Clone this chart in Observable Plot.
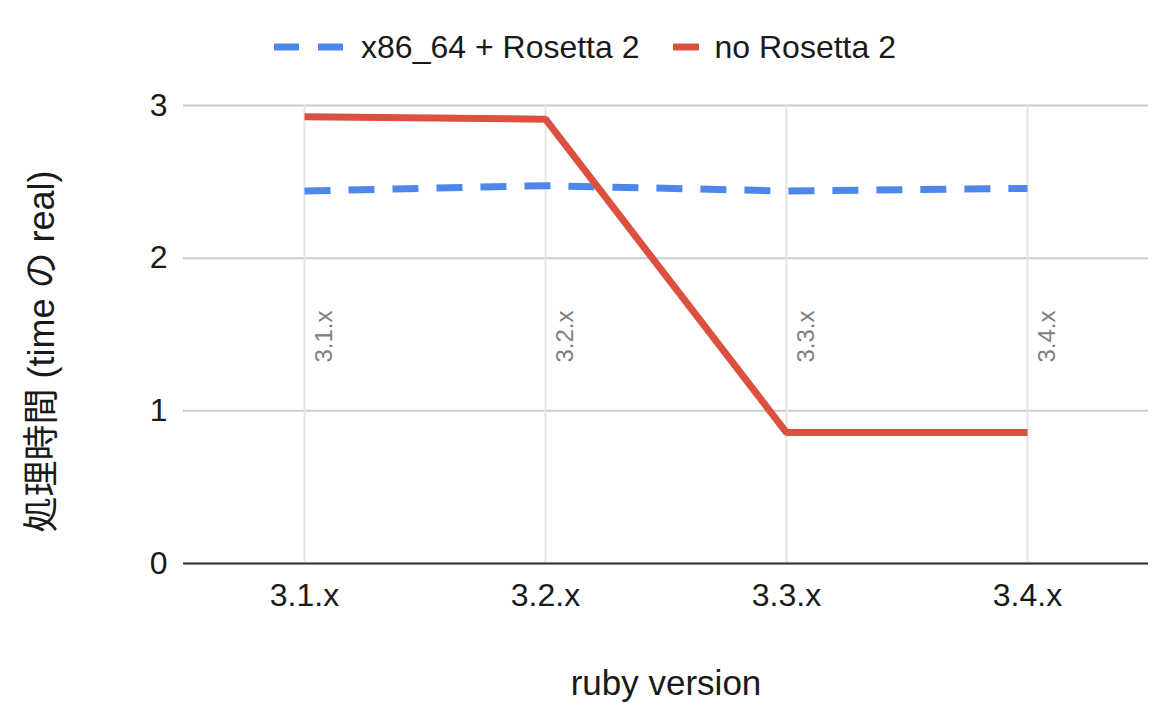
<!DOCTYPE html>
<html>
<head>
<meta charset="utf-8">
<script src="https://cdn.jsdelivr.net/npm/d3@7"></script>
<script src="https://cdn.jsdelivr.net/npm/@observablehq/plot@0.6"></script>
<style>
  html, body { margin: 0; padding: 0; background: #fff; }
  body { width: 1170px; font-family: Arial, "Liberation Sans", "Noto Sans CJK JP", sans-serif; color: #1a1a1a; }
  #legend { height: 80px; display: flex; justify-content: center; align-items: center; padding-top: 14px; box-sizing: border-box; font-size: 32px; }
  .item { display: flex; align-items: center; }
  .item svg { display: block; }
</style>
</head>
<body>
<div id="legend"></div>
<div id="chart"></div>
<script>
// ruby versions on the x axis
const versions = ["3.1.x", "3.2.x", "3.3.x", "3.4.x"];
// elapsed real time per version, x86_64 build under Rosetta 2
const rosettaTimes = [2.44, 2.475, 2.44, 2.457];
// elapsed real time per version, native build
const nativeTimes = [2.927, 2.91, 0.858, 0.858];
// y tick values
const yTicks = [0, 1, 2, 3];

const seriesNames = ["x86_64 + Rosetta 2", "no Rosetta 2"];
const blue = "#4f86ec";
const red = "#dc5040";
const font = 'Arial, "Liberation Sans", "Noto Sans CJK JP", sans-serif';

const rows = versions.map((v, i) => ({version: v, rosetta: rosettaTimes[i], native: nativeTimes[i]}));

// legend row
const legend = document.getElementById("legend");
legend.innerHTML = `
  <div class="item">
    <svg width="70" height="10"><line x1="0" y1="5" x2="70" y2="5" stroke="${blue}" stroke-width="7" stroke-dasharray="25,19"/></svg>
    <span style="margin-left:17px">${seriesNames[0]}</span>
  </div>
  <div class="item" style="margin-left:34px">
    <svg width="26" height="10"><line x1="0" y1="5" x2="26" y2="5" stroke="${red}" stroke-width="7"/></svg>
    <span style="margin-left:15px">${seriesNames[1]}</span>
  </div>`;

const chart = Plot.plot({
  width: 1170,
  height: 636,
  marginLeft: 183,
  marginRight: 22,
  marginTop: 25,
  marginBottom: 153,
  style: {fontFamily: font, fontSize: "32px", color: "#1a1a1a", background: "#fff"},
  x: {type: "point", domain: versions, label: null},
  y: {domain: [0, 3], label: null},
  marks: [
    Plot.gridY(yTicks, {stroke: "#cccccc", strokeOpacity: 1, strokeWidth: 2}),
    Plot.gridX(versions, {stroke: "#e6e6e6", strokeOpacity: 1, strokeWidth: 2}),
    Plot.ruleY([0], {stroke: "#333", strokeWidth: 2}),
    // version names written up the gridlines
    Plot.text(versions, {x: d => d, frameAnchor: "middle", rotate: -90, dx: 20, dy: 2,
      fill: "#808080", fontSize: 24}),
    Plot.axisY(yTicks, {tickSize: 0, tickPadding: 16, fontSize: 32, label: null, tickFormat: d3.format("d")}),
    Plot.axisX({tickSize: 0, tickPadding: 20, fontSize: 32, label: null}),
    Plot.text(["ruby version"], {frameAnchor: "bottom", dy: 120, lineAnchor: "middle",
      fontSize: 35, fill: "#1a1a1a"}),
    Plot.text(["処理時間 (time の real)"], {frameAnchor: "left", dx: -141, dy: 17, rotate: -90,
      lineAnchor: "middle", textAnchor: "middle", fontSize: 36, fill: "#1a1a1a"}),
    Plot.line(rows, {x: "version", y: "rosetta", stroke: blue, strokeWidth: 7,
      strokeDasharray: "26,18", strokeLinecap: "butt", strokeLinejoin: "miter"}),
    Plot.line(rows, {x: "version", y: "native", stroke: red, strokeWidth: 7,
      strokeLinecap: "butt", strokeLinejoin: "miter"})
  ]
});
document.getElementById("chart").append(chart);
</script>
</body>
</html>
